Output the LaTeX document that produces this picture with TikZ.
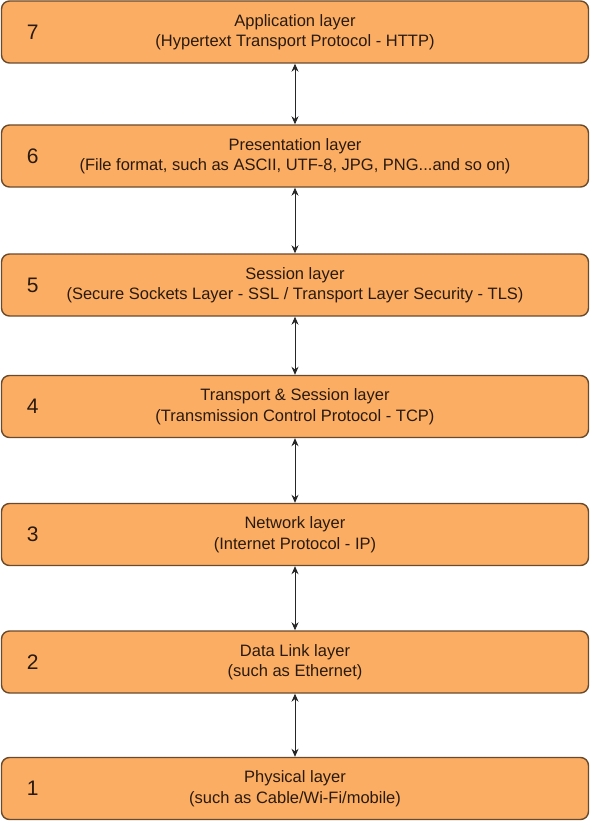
\documentclass[tikz,border=0pt]{standalone}
\usepackage{fontspec}
\setmainfont{Liberation Sans}
\usetikzlibrary{arrows.meta, positioning, calc}

\definecolor{layerfill}{HTML}{FBAE63}
\definecolor{layerline}{HTML}{6B4A2C}
\definecolor{layertext}{HTML}{2A1A0E}

\begin{document}
\begin{tikzpicture}[x=1pt, y=1pt,
    layerbox/.style={draw=layerline, line width=1.4pt, fill=layerfill, rounded corners=8pt,
        minimum width=587pt, minimum height=62pt, align=center, text=layertext,
        font=\fontsize{16.5}{20.5}\selectfont},
    layernum/.style={text=layertext, font=\fontsize{21}{22}\selectfont},
    link/.style={{Stealth[length=8pt,width=7pt]}-{Stealth[length=8pt,width=7pt]}, line width=0.9pt, black!85}]
    \useasboundingbox (0,0) rectangle (590,-821);

    % Layers
    \node[layerbox] (l7) at (295,-32) {Application layer\\(Hypertext Transport Protocol - HTTP)};
    \node[layerbox] (l6) at (295,-156) {Presentation layer\\(File format, such as ASCII, UTF-8, JPG, PNG...and so on)};
    \node[layerbox] (l5) at (295,-285) {Session layer\\(Secure Sockets Layer - SSL / Transport Layer Security - TLS)};
    \node[layerbox] (l4) at (295,-406.5) {Transport \& Session layer\\(Transmission Control Protocol - TCP)};
    \node[layerbox] (l3) at (295,-534.5) {Network layer\\(Internet Protocol - IP)};
    \node[layerbox] (l2) at (295,-662) {Data Link layer\\(such as Ethernet)};
    \node[layerbox] (l1) at (295,-788.5) {Physical layer\\(such as Cable/Wi-Fi/mobile)};

    % Layer numbers
    \foreach \i in {1,...,7}
        \node[layernum] (n\i) at ($(l\i.west)+(32,0)$) {\i};

    % Links between layers
    \foreach \a/\b in {7/6, 6/5, 5/4, 4/3, 3/2, 2/1}
        \draw[link] (l\a.south) -- (l\b.north);
\end{tikzpicture}
\end{document}
